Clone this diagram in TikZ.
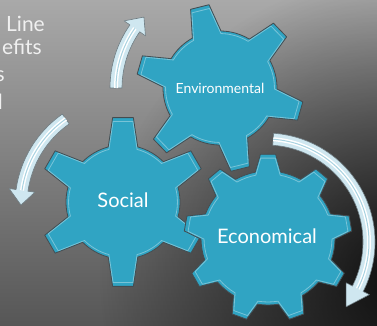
\documentclass[tikz,border=0pt]{standalone}
\usepackage{fontspec}
\setmainfont{Lato}
\usetikzlibrary{fadings}

\definecolor{gearblue}{HTML}{30A4C3}
\definecolor{gearline}{HTML}{454C50}
\definecolor{arrowfill}{HTML}{CFE7F0}
\definecolor{arrowline}{HTML}{6E7C82}
\definecolor{arrowmid}{HTML}{A9D3E1}
\definecolor{bgtop}{HTML}{A9A9A9}
\definecolor{bgbottom}{HTML}{565656}
\definecolor{titlegray}{HTML}{F0F0F0}

\tikzfading[name=darkspot, inner color=transparent!0, outer color=transparent!100]

\tikzset{
  gear/.style={fill=gearblue, draw=gearline, line width=0.8pt, line join=round},
  gearshine/.style={draw=white, opacity=0.35, line width=0.8pt, line join=round},
  arrowbody/.style={fill=arrowfill, draw=arrowline, line width=0.6pt, line join=round},
  arrowshine/.style={draw=white, line width=4pt},
  arrowcore/.style={draw=arrowmid, line width=1pt},
  gearlabel/.style={text=white, inner sep=0pt},
  titletext/.style={text=titlegray, inner sep=0pt, anchor=base east, font=\fontsize{21}{25}\selectfont}
}

% #1 centre, #2 teeth, #3 offset, #4 body radius, #5 tip radius, #6 base half angle, #7 tip half angle
\newcommand{\drawgear}[7]{%
  \pgfmathsetmacro\gstep{360/#2}
  \begin{scope}[shift={(#1)}]
    \filldraw[gear] (#3-#6:#4) \foreach \k in {1,...,#2}{
      -- ({#3+(\k-1)*\gstep-#7}:#5) -- ({#3+(\k-1)*\gstep+#7}:#5) -- ({#3+(\k-1)*\gstep+#6}:#4)
      arc[start angle={#3+(\k-1)*\gstep+#6}, end angle={#3+\k*\gstep-#6}, radius=#4]} -- cycle;
  \end{scope}
  \begin{scope}[shift={(#1)}, scale=0.955]
    \draw[gearshine] (#3-#6:#4) \foreach \k in {1,...,#2}{
      -- ({#3+(\k-1)*\gstep-#7}:#5) -- ({#3+(\k-1)*\gstep+#7}:#5) -- ({#3+(\k-1)*\gstep+#6}:#4)
      arc[start angle={#3+(\k-1)*\gstep+#6}, end angle={#3+\k*\gstep-#6}, radius=#4]} -- cycle;
  \end{scope}}

% #1 centre, #2 radius, #3 start, #4 end of shaft, #5 tip
\newcommand{\cyclearrow}[5]{%
  \pgfmathsetmacro\ro{#2+6}\pgfmathsetmacro\ri{#2-6}
  \pgfmathsetmacro\wo{#2+13}\pgfmathsetmacro\wi{#2-13}
  \begin{scope}[shift={(#1)}]
    \filldraw[arrowbody] (#3:\ro) arc[start angle=#3, end angle=#4, radius=\ro]
      -- (#4:\wo) -- (#5:#2) -- (#4:\wi) -- (#4:\ri)
      arc[start angle=#4, end angle=#3, radius=\ri] -- cycle;
    \draw[arrowshine] (#3:#2) arc[start angle=#3, end angle=#4, radius=#2];
    \draw[arrowcore] (#3:#2) arc[start angle=#3, end angle=#4, radius=#2];
  \end{scope}}

\begin{document}
\begin{tikzpicture}[x=1pt, y=1pt]
  \useasboundingbox (0,0) rectangle (377,326);
  \clip (0,0) rectangle (377,326);
  \shade[top color=bgtop, bottom color=bgbottom] (0,0) rectangle (377,326);
  \fill[black, opacity=0.85, path fading=darkspot] (400,50) circle (300);

  \node[titletext] (title1) at (45,294) {Line};
  \node[titletext] (title2) at (42,271) {efits};
  \node[titletext] (title3) at (5,244) {s};
  \node[titletext] (title4) at (3,216) {l};

  \coordinate (env) at (220,238);
  \coordinate (soc) at (123,124);
  \coordinate (eco) at (268,88);

  \drawgear{env}{6}{104}{57}{84}{15}{6.5}
  \drawgear{soc}{6}{90}{57}{85}{15}{7}
  \drawgear{eco}{9}{90}{67}{84}{11}{5.2}

  \node[gearlabel, font=\fontsize{14}{16}\selectfont] (envlabel) at (220,238) {Environmental};
  \node[gearlabel, font=\fontsize{20}{24}\selectfont] (soclabel) at (123,126) {Social};
  \node[gearlabel, font=\fontsize{20}{24}\selectfont] (ecolabel) at (267,90) {Economical};

  \cyclearrow{env}{104}{180}{145}{137}
  \cyclearrow{126,121}{105}{125}{172}{180}
  \cyclearrow{266,84}{103}{86}{-27}{-39}
\end{tikzpicture}
\end{document}
